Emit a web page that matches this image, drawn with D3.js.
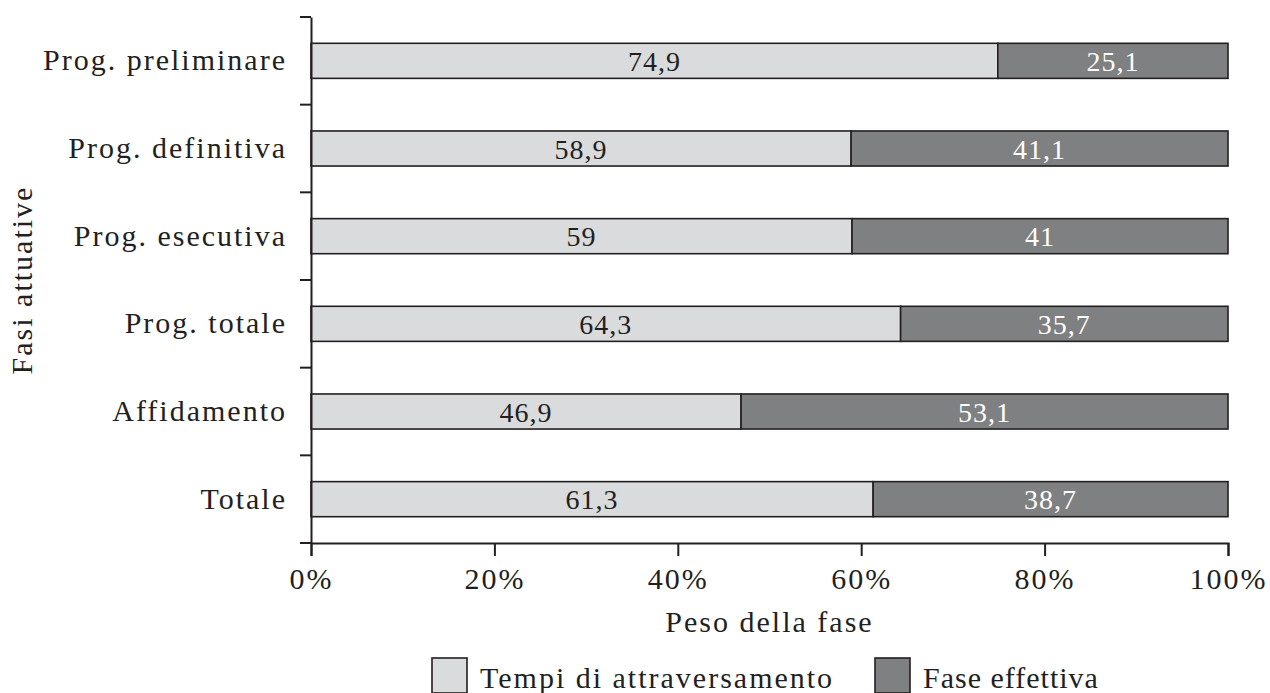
<!DOCTYPE html>
<html>
<head>
<meta charset="utf-8">
<script src="https://cdn.jsdelivr.net/npm/d3@7"></script>
<style>
  body { margin: 0; background: #fff; }
  svg { display: block; }
  text { font-family: "Liberation Serif", "DejaVu Serif", serif; fill: #231f20; }
</style>
</head>
<body>
<svg width="1270" height="693"></svg>
<script>
// categories, top to bottom
var fasi = ["Prog. preliminare", "Prog. definitiva", "Prog. esecutiva", "Prog. totale", "Affidamento", "Totale"];
var tempiAttraversamento = [74.9, 58.9, 59, 64.3, 46.9, 61.3];
var faseEffettiva = [25.1, 41.1, 41, 35.7, 53.1, 38.7];
var serie = ["Tempi di attraversamento", "Fase effettiva"];
var xTicks = [0, 20, 40, 60, 80, 100];

var colori = ["#d9dbdd", "#7e8081"];

var margin = {top: 17, right: 42, bottom: 150, left: 311};
var width = 1270 - margin.left - margin.right;
var height = 693 - margin.top - margin.bottom;

var svg = d3.select("svg");
var g = svg.append("g").attr("transform", `translate(${margin.left},${margin.top})`);

var x = d3.scaleLinear().domain([0, 100]).range([0, width]);
var y = d3.scaleBand().domain(fasi).range([0, height]).paddingInner(0.6).paddingOuter(0.3);

// stacked data
var rows = fasi.map((f, i) => ({fase: f, vals: [tempiAttraversamento[i], faseEffettiva[i]]}));
var stack = d3.stack().keys([0, 1]).value((d, k) => d.vals[k]);
var layers = stack(rows);

var layer = g.selectAll(".layer")
  .data(layers)
  .enter().append("g")
  .attr("class", "layer")
  .attr("fill", (d, i) => colori[i]);

layer.selectAll("rect")
  .data(d => d)
  .enter().append("rect")
  .attr("x", d => x(d[0]))
  .attr("y", d => y(d.data.fase))
  .attr("width", d => x(d[1]) - x(d[0]))
  .attr("height", y.bandwidth())
  .attr("stroke", "#231f20")
  .attr("stroke-width", 1.6);

layer.selectAll("text")
  .data(d => d)
  .enter().append("text")
  .attr("x", d => x((d[0] + d[1]) / 2))
  .attr("y", d => y(d.data.fase) + y.bandwidth() / 2)
  .attr("dy", "0.36em")
  .attr("text-anchor", "middle")
  .style("font-size", "28px")
  .style("letter-spacing", "1px")
  .style("fill", (d, i, n) => d3.select(n[i].parentNode).datum().key === 0 ? "#231f20" : "#ffffff")
  .text(d => (d[1] - d[0]).toFixed(1).replace(/\.0$/, "").replace(".", ","));

// axes
var xAxis = g.append("g")
  .attr("transform", `translate(0,${height})`)
  .call(d3.axisBottom(x).tickValues(xTicks).tickFormat(d => d + "%").tickSize(13).tickPadding(12));

var yAxis = g.append("g")
  .call(d3.axisLeft(y).tickSize(0).tickPadding(24));

// y tick marks between bands
var bordi = d3.range(fasi.length + 1).map(i => i * height / fasi.length);
g.selectAll(".ytick")
  .data(bordi)
  .enter().append("line")
  .attr("x1", -11).attr("x2", 0)
  .attr("y1", d => d).attr("y2", d => d)
  .attr("stroke", "#231f20")
  .attr("stroke-width", 2);

svg.selectAll(".domain").attr("stroke", "#231f20").attr("stroke-width", 2);
xAxis.selectAll(".tick line").attr("stroke", "#231f20").attr("stroke-width", 2);
svg.selectAll(".tick text")
  .style("font-size", "30px")
  .style("letter-spacing", "2px")
  .attr("fill", "#231f20");

// axis titles
g.append("text")
  .attr("x", width / 2)
  .attr("y", height + 89)
  .attr("text-anchor", "middle")
  .style("font-size", "30px")
  .style("letter-spacing", "2px")
  .text("Peso della fase");

g.append("text")
  .attr("transform", `translate(${-311 + 32},${height / 2}) rotate(-90)`)
  .attr("text-anchor", "middle")
  .style("font-size", "30px")
  .style("letter-spacing", "2px")
  .text("Fasi attuative");

// legend
var legend = svg.append("g").attr("transform", "translate(432,658)");
var voci = legend.selectAll("g")
  .data(serie)
  .enter().append("g")
  .attr("transform", (d, i) => `translate(${i * 443},0)`);

voci.append("rect")
  .attr("width", 35).attr("height", 35)
  .attr("fill", (d, i) => colori[i])
  .attr("stroke", "#231f20")
  .attr("stroke-width", 1.6);

voci.append("text")
  .attr("x", 48)
  .attr("y", 30)
  .style("font-size", "30px")
  .style("letter-spacing", (d, i) => i === 0 ? "2px" : "1px")
  .text(d => d);
</script>
</body>
</html>
